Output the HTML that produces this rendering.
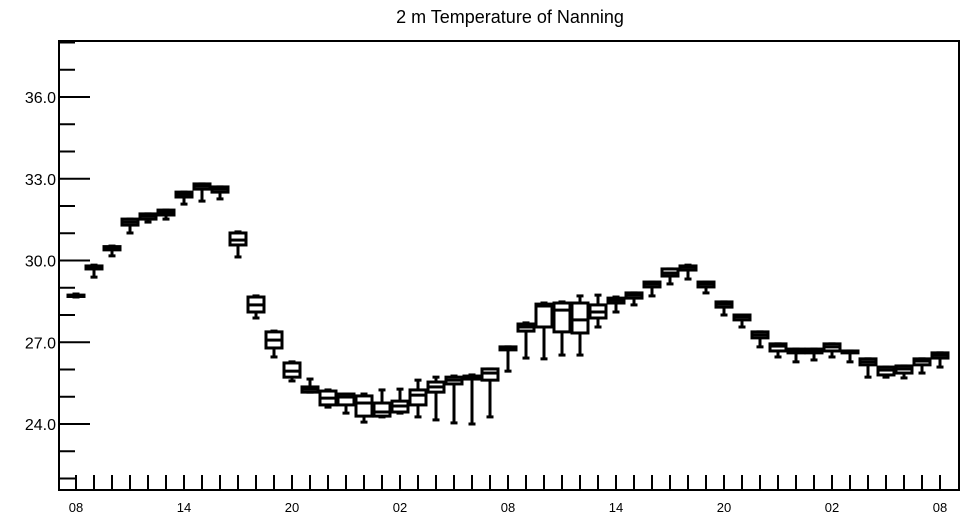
<!DOCTYPE html>
<html><head><meta charset="utf-8"><style>
html,body{margin:0;padding:0;background:#fff;}
svg{display:block;font-family:"Liberation Sans",Arial,sans-serif;}
</style></head><body>
<svg id="chart" width="964" height="520" viewBox="0 0 964 520" xmlns="http://www.w3.org/2000/svg">
<text x="510" y="23" font-size="18" text-anchor="middle">2 m Temperature of Nanning</text>
<g id="axes"></g>
<g id="boxes"></g>
<rect x="59" y="41" width="900" height="449" fill="none" stroke="#000" stroke-width="2"/>
</svg>
<script>
const hourLabels = ["08","14","20","02","08","14","20","02","08"];
const yTicks = [24.0, 27.0, 30.0, 33.0, 36.0];
const maxV = [28.77,29.83,30.53,31.52,31.71,31.85,32.51,32.81,32.70,31.05,28.70,27.41,26.28,25.65,25.25,25.10,25.10,25.25,25.28,25.61,25.72,25.76,25.80,26.02,26.83,27.71,28.44,28.48,28.70,28.73,28.66,28.81,29.21,29.69,29.83,29.21,28.48,28.00,27.38,26.94,26.75,26.75,26.94,26.68,26.39,26.09,26.13,26.39,26.61];
const q3V = [28.73,29.80,30.51,31.52,31.71,31.85,32.51,32.81,32.70,31.01,28.66,27.38,26.24,25.36,25.21,25.10,25.03,24.77,24.84,25.25,25.54,25.72,25.76,26.02,26.83,27.67,28.40,28.44,28.44,28.37,28.62,28.81,29.21,29.69,29.80,29.21,28.48,28.00,27.38,26.94,26.75,26.75,26.94,26.68,26.39,26.09,26.13,26.39,26.61];
const medV = [28.72,29.76,30.46,31.41,31.63,31.78,32.44,32.73,32.62,30.75,28.37,27.08,25.94,25.28,24.95,24.99,24.77,24.44,24.66,25.06,25.36,25.61,25.72,25.87,26.79,27.56,28.33,28.18,27.82,28.11,28.55,28.73,29.14,29.54,29.76,29.14,28.40,27.93,27.27,26.86,26.68,26.68,26.83,26.64,26.28,25.98,26.02,26.31,26.53];
const q1V = [28.68,29.69,30.39,31.30,31.52,31.67,32.33,32.62,32.51,30.57,28.11,26.79,25.72,25.17,24.70,24.70,24.29,24.29,24.44,24.70,25.17,25.47,25.65,25.61,26.72,27.41,27.56,27.38,27.34,27.89,28.44,28.62,29.03,29.43,29.65,29.03,28.29,27.82,27.16,26.68,26.61,26.61,26.68,26.61,26.17,25.80,25.87,26.17,26.42];
const minV = [28.66,29.39,30.17,31.01,31.41,31.52,32.07,32.18,32.26,30.13,27.89,26.46,25.58,25.17,24.62,24.40,24.07,24.26,24.40,24.26,24.15,24.04,24.00,24.26,25.94,26.42,26.39,26.53,26.53,27.56,28.11,28.37,28.70,29.14,29.32,28.81,28.00,27.56,26.83,26.46,26.28,26.35,26.46,26.28,25.72,25.72,25.69,25.87,26.09];

const NS="http://www.w3.org/2000/svg";
const yScale = v => 424 - (v - 24) * 27.25;
const xScale = i => 76 + i * 18;
function mk(tag, attrs, parent){const e=document.createElementNS(NS,tag);for(const k in attrs)e.setAttribute(k,attrs[k]);parent.appendChild(e);return e;}
const axes=document.getElementById('axes');
for(let v=22; v<=38; v++){
  const y=yScale(v);
  const major = yTicks.includes(v);
  const t=mk('line',{x1:59,x2:major?90:75,y1:y,y2:y,stroke:'#000','stroke-width':2},axes);
  
  
}
yTicks.forEach(v=>{
  const t=mk('text',{x:56,y:yScale(v)+6,'font-size':16,'text-anchor':'end'},axes);
  t.textContent=v.toFixed(1);
  
  
});
for(let i=0;i<maxV.length;i++){
  const x=xScale(i);
  const t=mk('line',{x1:x,x2:x,y1:475,y2:490,stroke:'#000','stroke-width':2},axes);
  
  
}
hourLabels.forEach((s,k)=>{
  const t=mk('text',{x:xScale(k*6),y:512,'font-size':13,'text-anchor':'middle'},axes);
  t.textContent=s;
  
  
});
const boxes=document.getElementById('boxes');
for(let i=0;i<maxV.length;i++){
  const x=xScale(i);
  const g=mk('g',{stroke:'#000','stroke-width':3,fill:'none'},boxes);
  
  
  const yMax=yScale(maxV[i]),yQ3=yScale(q3V[i]),yMed=yScale(medV[i]),yQ1=yScale(q1V[i]),yMin=yScale(minV[i]);
  mk('line',{x1:x,x2:x,y1:yMax,y2:yQ3},g);
  mk('line',{x1:x,x2:x,y1:yQ1,y2:yMin},g);
  mk('line',{x1:x-3.5,x2:x+3.5,y1:yMax,y2:yMax},g);
  mk('line',{x1:x-3.5,x2:x+3.5,y1:yMin,y2:yMin},g);
  mk('rect',{x:x-8,y:yQ3,width:16,height:Math.max(yQ1-yQ3,0.5),fill:'#fff'},g);
  mk('line',{x1:x-8,x2:x+8,y1:yMed,y2:yMed},g);
}
</script>
</body></html>
